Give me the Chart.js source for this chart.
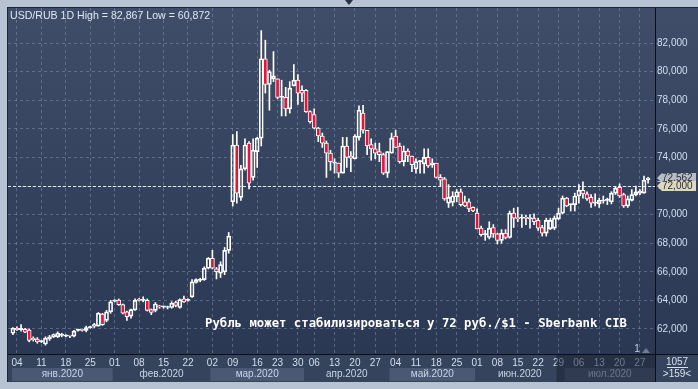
<!DOCTYPE html>
<html>
<head>
<meta charset="utf-8">
<script src="https://cdn.jsdelivr.net/npm/chart.js@4"></script>
<style>
  html, body { margin: 0; padding: 0; background: #b7c3d3; overflow: hidden; }
  canvas { display: block; }
</style>
</head>
<body>
<canvas id="fxChart" width="698" height="389"></canvas>
<script>
// USD/RUB daily candles, Jan - Jul 2020
const opens = [
  61.70, 62.05, 61.95, 61.98, 61.93, 61.35, 61.30, 61.12, 60.95, 61.30,
  61.45, 61.45, 61.55, 61.50, 61.52, 61.50, 61.90, 61.93, 61.90, 62.10,
  62.20, 62.20, 63.05, 62.60, 63.20, 63.95, 64.03, 63.70, 63.20, 62.90,
  63.33, 64.05, 64.00, 64.00, 63.35, 63.30, 63.60, 63.55, 63.50, 63.50,
  63.85, 63.50, 64.10, 64.00, 64.25, 65.25, 65.40, 65.45, 66.25, 66.95,
  66.20, 65.90, 66.00, 67.50, 70.90, 74.87, 71.20, 73.20, 75.00, 72.60,
  74.40, 75.35, 80.90, 79.10, 79.50, 79.50, 78.20, 78.20, 77.40, 79.00,
  79.40, 78.70, 78.70, 77.20, 77.00, 76.05, 75.50, 75.00, 74.30, 73.60,
  73.60, 72.90, 74.80, 74.10, 73.90, 75.40, 77.10, 75.90, 74.90, 74.60,
  74.40, 74.20, 72.90, 74.30, 75.50, 74.80, 73.70, 74.45, 74.10, 73.20,
  73.70, 73.55, 74.00, 73.50, 73.60, 72.60, 72.50, 70.80, 70.85, 71.25,
  71.60, 70.90, 70.90, 70.50, 70.10, 69.05, 68.60, 68.40, 69.10, 68.65,
  68.20, 68.70, 68.40, 70.10, 69.80, 69.75, 69.75, 69.70, 69.75, 69.60,
  69.10, 68.70, 69.00, 69.05, 69.70, 70.10, 71.15, 70.70, 70.70, 71.30,
  71.70, 71.45, 71.20, 70.80, 70.75, 70.95, 71.00, 70.90, 71.50, 71.90,
  71.40, 70.60, 71.00, 71.40, 71.50, 71.50, 72.45
];
const highs = [
  62.10, 62.15, 62.30, 62.05, 62.00, 61.45, 61.40, 61.20, 61.45, 61.55,
  61.65, 61.80, 61.70, 61.60, 61.55, 61.90, 62.00, 62.00, 62.20, 62.20,
  62.40, 63.15, 63.10, 63.30, 64.00, 64.05, 64.10, 63.75, 63.25, 63.40,
  64.10, 64.15, 64.25, 64.10, 63.40, 63.85, 63.65, 63.60, 63.60, 63.90,
  63.95, 64.10, 64.30, 64.10, 65.45, 65.50, 65.55, 66.35, 67.00, 67.50,
  66.30, 66.70, 67.70, 68.75, 75.60, 75.80, 73.45, 75.30, 75.10, 75.30,
  75.40, 82.867, 82.20, 80.10, 81.40, 79.50, 79.40, 78.90, 79.30, 80.50,
  79.80, 79.00, 78.75, 77.25, 77.40, 76.10, 75.70, 75.15, 74.50, 73.90,
  73.60, 75.40, 75.40, 74.40, 75.60, 77.60, 77.65, 75.90, 75.30, 75.00,
  75.00, 74.30, 74.40, 75.70, 75.90, 75.00, 74.80, 74.60, 74.10, 73.90,
  73.80, 74.60, 74.60, 73.90, 73.60, 72.80, 72.60, 72.10, 71.60, 71.75,
  71.80, 71.30, 71.10, 70.55, 70.40, 69.20, 68.90, 69.50, 69.30, 68.70,
  68.95, 68.95, 70.25, 70.45, 70.50, 70.00, 69.95, 70.00, 70.05, 69.75,
  69.25, 69.75, 69.75, 69.90, 70.45, 71.30, 71.20, 70.75, 71.50, 72.10,
  72.30, 71.60, 71.40, 71.45, 71.15, 71.30, 71.15, 71.60, 71.95, 72.15,
  71.50, 71.30, 71.75, 72.00, 71.75, 72.70, 72.60
];
const lows = [
  61.60, 61.90, 61.85, 61.75, 61.10, 61.15, 61.00, 61.05, 60.872, 61.20,
  61.40, 61.40, 61.45, 61.45, 61.40, 61.45, 61.85, 61.85, 61.80, 62.05,
  62.10, 62.20, 62.25, 62.50, 63.10, 63.90, 63.65, 63.05, 62.60, 62.75,
  63.30, 63.95, 63.90, 63.25, 63.00, 63.20, 63.45, 63.45, 63.40, 63.45,
  63.55, 63.45, 63.85, 63.95, 64.20, 65.20, 65.30, 65.40, 66.20, 66.20,
  65.50, 65.60, 65.80, 67.30, 70.60, 70.80, 71.00, 73.10, 71.80, 72.40,
  73.30, 74.80, 78.50, 77.30, 79.30, 78.10, 76.90, 76.90, 77.10, 79.00,
  77.70, 77.90, 77.15, 76.40, 76.00, 75.10, 74.70, 72.60, 73.10, 72.90,
  72.60, 72.90, 73.30, 73.00, 73.90, 75.20, 75.70, 74.20, 73.80, 73.90,
  73.70, 72.80, 72.60, 74.30, 74.70, 73.60, 73.40, 73.70, 73.00, 72.90,
  72.90, 72.90, 73.30, 73.30, 72.55, 72.00, 71.00, 70.50, 70.60, 70.90,
  70.60, 70.55, 70.20, 70.20, 69.00, 68.50, 68.20, 68.30, 68.40, 67.95,
  68.00, 68.30, 68.35, 69.10, 69.50, 69.10, 69.30, 69.05, 69.30, 68.90,
  68.50, 68.50, 68.95, 68.95, 69.65, 70.05, 70.55, 70.25, 70.25, 70.80,
  71.15, 71.00, 70.50, 70.60, 70.50, 70.80, 70.70, 70.75, 71.40, 71.20,
  70.50, 70.50, 70.95, 71.30, 71.40, 71.50, 72.20
];
const closes = [
  62.05, 61.95, 62.05, 61.78, 61.20, 61.25, 61.10, 61.13, 61.35, 61.45,
  61.60, 61.70, 61.60, 61.52, 61.50, 61.85, 61.95, 61.90, 62.10, 62.15,
  62.30, 63.10, 62.30, 63.20, 63.90, 64.00, 63.70, 63.10, 62.86, 63.35,
  64.00, 64.00, 64.02, 63.30, 63.15, 63.75, 63.55, 63.56, 63.55, 63.80,
  63.65, 64.05, 63.90, 64.03, 65.30, 65.45, 65.45, 66.25, 66.95, 66.25,
  66.00, 66.50, 67.50, 68.50, 74.87, 71.50, 73.20, 74.87, 72.20, 74.50,
  75.35, 80.90, 79.10, 80.00, 79.70, 78.20, 78.25, 77.40, 78.85, 79.40,
  78.50, 78.50, 77.20, 76.50, 76.05, 75.50, 75.00, 74.30, 73.70, 73.65,
  72.90, 74.80, 74.00, 73.95, 75.50, 77.30, 75.90, 74.80, 74.60, 74.30,
  74.20, 72.90, 74.40, 75.35, 74.70, 73.70, 74.45, 74.10, 73.50, 73.70,
  73.72, 74.00, 73.40, 73.60, 72.60, 72.40, 71.10, 71.20, 71.30, 71.60,
  70.70, 70.60, 70.40, 70.25, 69.00, 68.60, 68.65, 69.05, 68.65, 68.20,
  68.70, 68.40, 70.10, 69.75, 69.70, 69.76, 69.74, 69.80, 69.50, 69.05,
  68.70, 69.60, 69.60, 69.75, 70.10, 71.15, 70.60, 70.72, 71.30, 71.70,
  71.45, 71.10, 70.80, 70.82, 71.00, 71.00, 71.02, 71.50, 71.85, 71.30,
  70.60, 71.10, 71.40, 71.60, 71.65, 72.40, 72.562
];

// axis labels
const dayTickIdx = [1, 7, 13, 19, 25, 31, 37, 43, 49, 54, 60, 65, 70, 74, 79, 84, 89,
  94, 99, 104, 109, 114, 119, 124, 129, 134, 139, 144, 149, 154];
const dayTickText = ['04', '11', '18', '25', '01', '08', '15', '22', '02', '09', '16', '23', '30',
  '06', '13', '20', '27', '04', '11', '18', '25', '01', '08', '15', '22', '29', '06', '13', '20', '27'];
const monthNames = ['янв.2020', 'фев.2020', 'мар.2020', 'апр.2020', 'май.2020', 'июн.2020', 'июл.2020'];
const monthStart = [0, 25, 49, 72, 93, 114, 136];
const yTicks = [62, 64, 66, 68, 70, 72, 74, 76, 78, 80, 82];
const lastPrice = 72.562;
const levelPrice = 72.0;

const titleText = 'USD/RUB 1D High = 82,867 Low = 60,872';
const noteText = 'Рубль может стабилизироваться у 72 руб./$1 - Sberbank CIB';

const fmt = v => v.toFixed(3).replace('.', ',');
const AXIS_FONT = { family: 'Liberation Sans', size: 10 };

const bodies = opens.map((o, i) => ({ x: i, y: [o, closes[i]] }));
const upperWicks = opens.map((o, i) => ({ x: i, y: [Math.max(o, closes[i]), highs[i]] }));
const lowerWicks = opens.map((o, i) => ({ x: i, y: [lows[i], Math.min(o, closes[i])] }));
const bodyFill = opens.map((o, i) => closes[i] < o ? '#e0163a' : 'rgba(0,0,0,0)');

const panelPlugin = {
  id: 'panel',
  beforeDraw(chart) {
    const { ctx, chartArea: a, width, height } = chart;
    ctx.save();
    ctx.fillStyle = '#b7c3d3';
    ctx.fillRect(0, 0, width, height);
    ctx.fillStyle = '#1d2434';
    ctx.fillRect(7, 7, width - 7, 375);
    const g = ctx.createLinearGradient(0, a.top, 0, a.bottom);
    g.addColorStop(0, '#3f4d69');
    g.addColorStop(1, '#2b3853');
    ctx.fillStyle = g;
    ctx.fillRect(a.left, a.top, width - a.left, a.bottom - a.top);
    ctx.fillStyle = '#36435c';
    ctx.fillRect(a.left, a.bottom + 1, width - a.left, 27);

    // month bands
    const x = chart.scales.x;
    monthStart.forEach((s, k) => {
      const x0 = Math.max(a.left + 4, x.getPixelForValue(s - 0.5));
      const x1 = k + 1 < monthStart.length ? x.getPixelForValue(monthStart[k + 1] - 0.5) : a.right;
      if (k % 2 === 0) {
        ctx.fillStyle = '#4a5874';
        ctx.fillRect(x0, a.bottom + 14, x1 - x0, 13);
      }
      ctx.fillStyle = '#c9d4e6';
      ctx.font = '10px "Liberation Sans"';
      ctx.textAlign = 'center';
      ctx.textBaseline = 'middle';
      ctx.fillText(monthNames[k], (x0 + x1) / 2, a.bottom + 20);
    });
    ctx.restore();
  },
  beforeDatasetsDraw(chart) {
    const { ctx, chartArea: a } = chart;
    const y = chart.scales.y.getPixelForValue(levelPrice);
    ctx.save();
    ctx.strokeStyle = '#e6eaf0';
    ctx.lineWidth = 1;
    ctx.setLineDash([3, 2]);
    ctx.beginPath();
    ctx.moveTo(a.left, Math.round(y) + 0.5);
    ctx.lineTo(a.right, Math.round(y) + 0.5);
    ctx.stroke();
    ctx.restore();
  },
  afterDraw(chart) {
    const { ctx, chartArea: a, width } = chart;
    const ys = chart.scales.y;
    ctx.save();
    // axis separators
    ctx.fillStyle = '#0b0f18';
    ctx.fillRect(a.right, a.top, 1, 374);
    ctx.fillRect(a.left, a.bottom, width - a.left, 1);

    // price tags
    const tag = (v, fill) => {
      const yc = Math.round(ys.getPixelForValue(v));
      ctx.fillStyle = fill;
      ctx.beginPath();
      ctx.moveTo(a.right + 2, yc);
      ctx.lineTo(a.right + 7, yc - 5);
      ctx.lineTo(width - 2, yc - 5);
      ctx.lineTo(width - 2, yc + 5);
      ctx.lineTo(a.right + 7, yc + 5);
      ctx.closePath();
      ctx.fill();
      ctx.fillStyle = '#2b2f38';
      ctx.font = '10px "Liberation Sans"';
      ctx.textAlign = 'left';
      ctx.textBaseline = 'middle';
      ctx.fillText(fmt(v), a.right + 7, yc + 0.5);
    };
    tag(lastPrice, '#b8bcc6');
    tag(levelPrice, '#dcd9bf');

    // July overlay on the time axis
    const xo = chart.scales.x.getPixelForValue(134 - 0.5);
    ctx.fillStyle = 'rgba(28,35,52,0.55)';
    ctx.fillRect(xo, a.bottom + 1, a.right - xo, 27);

    // bottom-right counter box
    ctx.fillStyle = '#d8e0ec';
    ctx.font = '10px "Liberation Sans"';
    ctx.textAlign = 'center';
    ctx.textBaseline = 'middle';
    ctx.fillText('1057', 677, a.bottom + 8);
    ctx.fillText('>159<', 677, a.bottom + 20);
    ctx.fillRect(667, a.bottom + 13, 21, 1);

    // small marker near the last bar
    ctx.fillStyle = '#c5cedc';
    ctx.fillText('1', 637, a.bottom - 5);
    ctx.fillStyle = '#6f7b90';
    ctx.beginPath();
    ctx.moveTo(642, a.bottom - 1);
    ctx.lineTo(646, a.bottom - 6);
    ctx.lineTo(650, a.bottom - 1);
    ctx.fill();

    // top drag handle
    ctx.fillStyle = '#2a3140';
    ctx.beginPath();
    ctx.moveTo(345, 0); ctx.lineTo(353, 0); ctx.lineTo(349, 5); ctx.fill();

    // title and note
    ctx.fillStyle = '#dfe7f3';
    ctx.textAlign = 'left';
    ctx.textBaseline = 'alphabetic';
    ctx.font = '10.6px "Liberation Sans"';
    ctx.fillText(titleText, 10, 19);
    ctx.fillStyle = '#ffffff';
    ctx.font = 'bold 12.3px "DejaVu Sans Mono"';
    ctx.fillText(noteText, 205, 327);
    ctx.restore();
  }
};

new Chart(document.getElementById('fxChart'), {
  type: 'bar',
  data: {
    datasets: [{
      label: 'body',
      data: bodies,
      backgroundColor: bodyFill,
      borderColor: '#ffffff',
      borderWidth: 1,
      borderSkipped: false,
      barThickness: 4,
      minBarLength: 1,
      grouped: false
    }, {
      label: 'upper',
      data: upperWicks,
      backgroundColor: '#ffffff',
      borderWidth: 0,
      barThickness: 1,
      grouped: false
    }, {
      label: 'lower',
      data: lowerWicks,
      backgroundColor: '#ffffff',
      borderWidth: 0,
      barThickness: 1,
      grouped: false
    }]
  },
  options: {
    responsive: false,
    animation: false,
    devicePixelRatio: 1,
    layout: { padding: { left: 8, top: 8, right: 1, bottom: 8 } },
    scales: {
      x: {
        type: 'linear',
        min: -1.2,
        max: 157.7,
        offset: false,
        afterBuildTicks: (s) => { s.ticks = dayTickIdx.map(v => ({ value: v })); },
        afterFit: (s) => { s.height = 27; },
        ticks: {
          autoSkip: false,
          maxRotation: 0,
          padding: 3,
          color: '#d3deef',
          font: AXIS_FONT,
          callback: (v, i) => dayTickText[i]
        },
        grid: { color: 'rgba(140,158,190,0.45)', drawTicks: false, offset: false },
        border: { display: false, dash: [3, 3] }
      },
      y: {
        position: 'right',
        min: 60.25,
        max: 84.45,
        afterBuildTicks: (s) => { s.ticks = yTicks.map(v => ({ value: v })); },
        afterFit: (s) => { s.width = 42; },
        ticks: {
          padding: 2,
          color: '#d3deef',
          font: AXIS_FONT,
          callback: (v) => fmt(v)
        },
        grid: { color: 'rgba(140,158,190,0.45)', drawTicks: false },
        border: { display: false, dash: [3, 3] }
      }
    },
    plugins: {
      legend: { display: false },
      tooltip: { enabled: false }
    }
  },
  plugins: [panelPlugin]
});
</script>
</body>
</html>
